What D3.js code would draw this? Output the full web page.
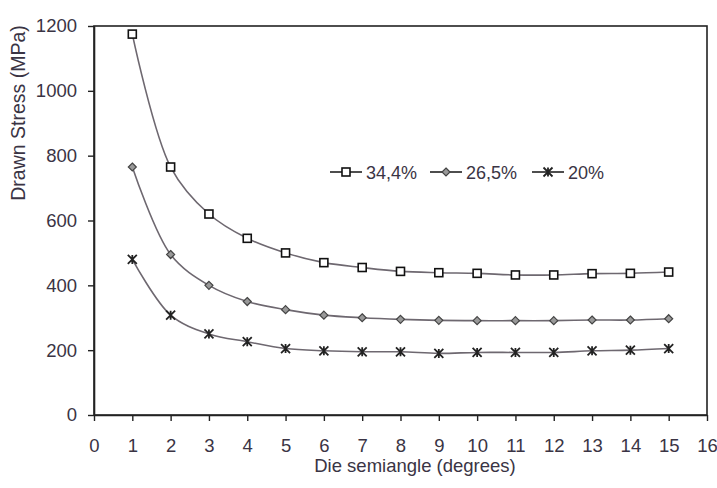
<!DOCTYPE html>
<html><head><meta charset="utf-8">
<script src="https://cdn.jsdelivr.net/npm/d3@7"></script>
<style>body{margin:0;background:#fff}svg{display:block}text{font-family:"Liberation Sans",Arial,sans-serif;fill:#3a3444}</style>
</head><body><svg id="c" width="717" height="488"></svg>
<script>
const angles = [1,2,3,4,5,6,7,8,9,10,11,12,13,14,15];
const s344 = [1175,765,620,545,500,470,455,443,439,437,432,432,436,437,441];
const s265 = [765,495,400,350,325,308,300,295,292,291,291,291,293,293,297];
const s20  = [480,308,250,226,205,198,195,195,190,193,193,193,198,200,205];
const seriesNames = ["34,4%","26,5%","20%"];
const xTicks = d3.range(0,17);
const yTicks = [0,200,400,600,800,1000,1200];

const svg = d3.select("#c");
const L=94,R=707,T=26,B=415;
const x = d3.scaleLinear().domain([0,16]).range([L,R]);
const y = d3.scaleLinear().domain([0,1200]).range([B,T]);

svg.append("rect").attr("x",L).attr("y",T).attr("width",R-L).attr("height",B-T)
  .attr("fill","none").attr("stroke","#222").attr("stroke-width",1.6);

const gx = svg.append("g").attr("transform",`translate(0,${B})`)
  .call(d3.axisBottom(x).tickValues(xTicks).tickFormat(d3.format("d")).tickSize(6).tickSizeOuter(0).tickPadding(18));
const gy = svg.append("g").attr("transform",`translate(${L},0)`)
  .call(d3.axisLeft(y).tickValues(yTicks).tickFormat(d3.format("d")).tickSize(6).tickSizeOuter(0).tickPadding(11));
[gx,gy].forEach(g=>{
  g.select(".domain").attr("stroke","#222").attr("stroke-width",1.6);
  g.selectAll(".tick line").attr("stroke","#222").attr("stroke-width",1.4);
  g.selectAll("text").style("font-size","18.5px").attr("fill","#3a3444");
});

svg.append("text").attr("x",415).attr("y",472).attr("text-anchor","middle")
  .style("font-size","18.5px").text("Die semiangle (degrees)");
svg.append("text").attr("transform","translate(25,113) rotate(-90)").attr("text-anchor","middle")
  .style("font-size","19.5px").text("Drawn Stress (MPa)");

const line = d3.line().x((d,i)=>x(angles[i])).y(d=>y(d)).curve(d3.curveCatmullRom.alpha(0.5));
const all=[s344,s265,s20];
all.forEach(s=>{
  svg.append("path").attr("d",line(s)).attr("fill","none").attr("stroke","#6e6870").attr("stroke-width",1.6);
});

function marker(g,type,cx,cy){
  if(type===0){
    g.append("rect").attr("x",cx-4).attr("y",cy-4).attr("width",8).attr("height",8)
      .attr("fill","#fff").attr("stroke","#111").attr("stroke-width",1.6);
  } else if(type===1){
    g.append("path").attr("d",`M${cx},${cy-4}L${cx+4},${cy}L${cx},${cy+4}L${cx-4},${cy}Z`)
      .attr("fill","#999").attr("stroke","#444").attr("stroke-width",1.2);
  } else {
    const r=4.5;
    g.append("path").attr("d",`M${cx-r},${cy-r}L${cx+r},${cy+r}M${cx-r},${cy+r}L${cx+r},${cy-r}M${cx},${cy-r}L${cx},${cy+r}`)
      .attr("stroke","#222").attr("stroke-width",1.8);
  }
}
const mg = svg.append("g");
all.forEach((s,k)=>s.forEach((v,i)=>marker(mg,k,x(angles[i]),y(v))));

const lg = svg.append("g");
const lx=[330,430,532], ly=172;
seriesNames.forEach((n,k)=>{
  lg.append("line").attr("x1",lx[k]).attr("x2",lx[k]+32).attr("y1",ly).attr("y2",ly).attr("stroke","#222").attr("stroke-width",1.6);
  marker(lg,k,lx[k]+16,ly);
  lg.append("text").attr("x",lx[k]+36).attr("y",ly+6.5).style("font-size","18px").text(n);
});
</script></body></html>
